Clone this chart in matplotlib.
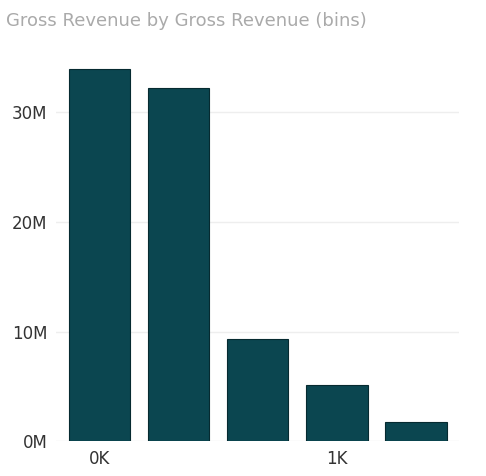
import matplotlib
matplotlib.use("Agg")
import matplotlib.pyplot as plt

bins = [0, 1, 2, 3, 4]
values = [33.9e6, 32.2e6, 9.3e6, 5.1e6, 1.75e6]
yticks = [0, 10e6, 20e6, 30e6]
yticklabels = ["0M", "10M", "20M", "30M"]
xticks = [0, 3]
xticklabels = ["0K", "1K"]

fig = plt.figure(figsize=(4.86, 4.76), dpi=100)
ax = fig.add_axes([0.115, 0.073, 0.83, 0.83])
ax.bar(bins, values, width=0.78, color="#0B4650", edgecolor="#062a30", linewidth=0.8, zorder=3)
ax.set_xlim(-0.55, 4.55)
ax.set_ylim(0, 36e6)
ax.set_yticks(yticks)
ax.set_yticklabels(yticklabels, fontsize=12, color="#333333")
ax.set_xticks(xticks)
ax.set_xticklabels(xticklabels, fontsize=12, color="#333333")
ax.tick_params(length=0, pad=6)
ax.grid(axis="y", color="#eeeeee", linewidth=1, zorder=0)
for s in ax.spines.values():
    s.set_visible(False)
fig.text(0.012, 0.955, "Gross Revenue by Gross Revenue (bins)", fontsize=13, color="#aaaaaa", va="center")
fig.savefig("out.png", dpi=100, facecolor="white")
